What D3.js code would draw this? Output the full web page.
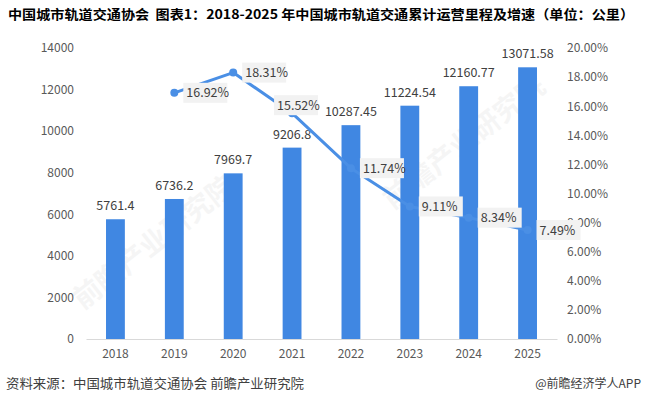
<!DOCTYPE html>
<html>
<head>
<meta charset="utf-8">
<script src="https://d3js.org/d3.v7.min.js"></script>
<style>
  body { margin: 0; background: #fff; }
  svg text { font-family: "Microsoft YaHei", "Noto Sans CJK SC", "Open Sans", sans-serif; }
</style>
</head>
<body>
<div id="chart"></div>
<script>
'use strict'

// chart values
const years = ['2018', '2019', '2020', '2021', '2022', '2023', '2024', '2025'];
const mileage = [5761.4, 6736.2, 7969.7, 9206.8, 10287.45, 11224.54, 12160.77, 13071.58];
const mileageLabels = ['5761.4', '6736.2', '7969.7', '9206.8', '10287.45', '11224.54', '12160.77', '13071.58'];
const growth = [null, 16.92, 18.31, 15.52, 11.74, 9.11, 8.34, 7.49];
const leftTicks = [0, 2000, 4000, 6000, 8000, 10000, 12000, 14000];
const rightTicks = [0, 2, 4, 6, 8, 10, 12, 14, 16, 18, 20];

const titleText = '中国城市轨道交通协会  图表1：2018-2025 年中国城市轨道交通累计运营里程及增速（单位：公里）';
const sourceText = '资料来源：中国城市轨道交通协会 前瞻产业研究院';
const brandText = '@前瞻经济学人APP';

let width = 648, height = 395;
let margin = {top: 48, right: 91, bottom: 56, left: 86};

let svg = d3.select('#chart')
    .append('svg')
        .attr('width', width)
        .attr('height', height);

// faint watermarks
[[160, 250], [470, 150]].forEach(([x, y]) => {
    svg.append('text')
        .attr('transform', `translate(${x}, ${y}) rotate(-38)`)
        .attr('text-anchor', 'middle')
        .attr('font-size', 28)
        .attr('font-weight', 'bold')
        .attr('fill', '#000')
        .attr('opacity', 0.035)
        .text('前瞻产业研究院');
});

let x = d3.scaleBand()
    .domain(years)
    .range([margin.left, width - margin.right])
    .paddingInner(0.68)
    .paddingOuter(0.34);

let yL = d3.scaleLinear()
    .domain([0, 14000])
    .range([height - margin.bottom, margin.top]);

let yR = d3.scaleLinear()
    .domain([0, 20])
    .range([height - margin.bottom, margin.top]);

let cx = d => x(d) + x.bandwidth() / 2;

// title
svg.append('text')
    .attr('x', 8)
    .attr('y', 19)
    .attr('font-size', 13)
    .attr('font-weight', 'bold')
    .attr('fill', '#000')
    .style('white-space', 'pre')
    .attr('textLength', 626)
    .attr('lengthAdjust', 'spacingAndGlyphs')
    .text(titleText);

// left axis
let leftAxis = svg.append('g')
    .attr('transform', `translate(${margin.left - 12}, 0)`)
    .call(d3.axisLeft(yL).tickValues(leftTicks).tickSize(0).tickPadding(0)
        .tickFormat(d3.format('d')));
leftAxis.select('.domain').remove();
leftAxis.selectAll('text')
    .attr('font-size', 12)
    .attr('fill', '#595959');

// right axis
let rightAxis = svg.append('g')
    .attr('transform', `translate(${width - margin.right + 10}, 0)`)
    .call(d3.axisRight(yR).tickValues(rightTicks).tickSize(0).tickPadding(0)
        .tickFormat(d => d.toFixed(2) + '%'));
rightAxis.select('.domain').remove();
rightAxis.selectAll('text')
    .attr('font-size', 12)
    .attr('fill', '#595959');

// bars
svg.selectAll('rect.bar')
    .data(years)
    .join('rect')
        .attr('class', 'bar')
        .attr('x', d => x(d))
        .attr('y', (d, i) => yL(mileage[i]))
        .attr('width', x.bandwidth())
        .attr('height', (d, i) => yL(0) - yL(mileage[i]))
        .attr('fill', '#4087E2');

// bar labels
svg.selectAll('text.barlabel')
    .data(years)
    .join('text')
        .attr('class', 'barlabel')
        .attr('x', d => cx(d))
        .attr('y', (d, i) => yL(mileage[i]) - 9)
        .attr('text-anchor', 'middle')
        .attr('font-size', 12.5)
        .attr('fill', '#404040')
        .text((d, i) => mileageLabels[i]);

// x axis
let xAxis = svg.append('g')
    .attr('transform', `translate(0, ${yL(0)})`)
    .call(d3.axisBottom(x).tickSize(0).tickPadding(10));
xAxis.select('.domain').attr('stroke', '#D9D9D9');
xAxis.selectAll('text')
    .attr('font-size', 12)
    .attr('fill', '#595959');

// growth line
let pts = years.map((d, i) => ({year: d, v: growth[i]})).filter(d => d.v !== null);

svg.append('path')
    .datum(pts)
    .attr('fill', 'none')
    .attr('stroke', '#4A8FE5')
    .attr('stroke-width', 3)
    .attr('stroke-linejoin', 'round')
    .attr('d', d3.line().x(d => cx(d.year)).y(d => yR(d.v)));

svg.selectAll('circle.marker')
    .data(pts)
    .join('circle')
        .attr('class', 'marker')
        .attr('cx', d => cx(d.year))
        .attr('cy', d => yR(d.v))
        .attr('r', 4)
        .attr('fill', '#4A8FE5');

// growth labels (2021 sits above its point, the rest to the right)
let glabels = svg.selectAll('g.glabel')
    .data(pts)
    .join('g')
        .attr('class', 'glabel')
        .attr('transform', d => d.year === '2021'
            ? `translate(${cx(d.year) - 18}, ${yR(d.v) - 8})`
            : `translate(${cx(d.year) + 9}, ${yR(d.v)})`);

glabels.append('rect')
    .attr('x', 0)
    .attr('y', -10)
    .attr('width', 44)
    .attr('height', 20)
    .attr('fill', '#F2F2F2');

glabels.append('text')
    .attr('x', 3)
    .attr('y', 4.5)
    .attr('font-size', 12.5)
    .attr('fill', '#404040')
    .text(d => d.v.toFixed(2) + '%');

// footer
svg.append('text')
    .attr('x', 6)
    .attr('y', 388)
    .attr('font-size', 13)
    .attr('fill', '#404040')
    .attr('textLength', 298)
    .attr('lengthAdjust', 'spacingAndGlyphs')
    .text(sourceText);

svg.append('text')
    .attr('x', 641)
    .attr('y', 388)
    .attr('text-anchor', 'end')
    .attr('font-size', 12)
    .attr('fill', '#404040')
    .text(brandText);
</script>
</body>
</html>
